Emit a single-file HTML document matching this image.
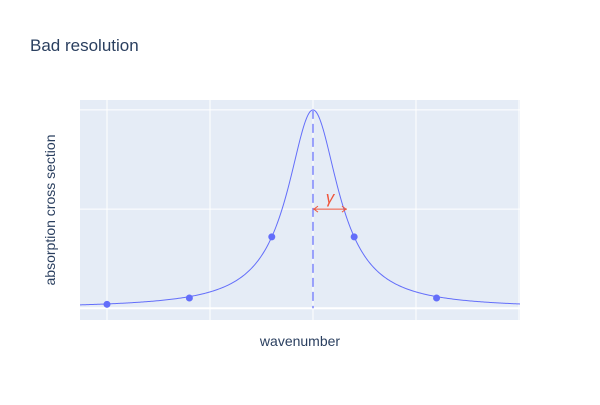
<!DOCTYPE html>
<html><head><meta charset="utf-8"><style>
body{margin:0;background:#fff;}
svg text{font-family:"Liberation Sans",sans-serif;}
</style></head><body>
<svg id="chart" width="600" height="400" xmlns="http://www.w3.org/2000/svg">
<rect x="0" y="0" width="600" height="400" fill="#fff"/>
<rect x="80" y="100" width="440" height="220" fill="#e5ecf6"/>
<g id="grid"></g>
<g id="marks"></g>
<text x="30" y="51" font-size="17" fill="#2a3f5f">Bad resolution</text>
<text x="300" y="346" font-size="14" fill="#2a3f5f" text-anchor="middle">wavenumber</text>
<text transform="translate(55,210) rotate(-90)" font-size="14" fill="#2a3f5f" text-anchor="middle">absorption cross section</text>
</svg>
<script>
const xGrid=[-2,-1,0,1,2];
const yGrid=[0,0.5,1];
const sampleX=[-2,-1.2,-0.4,0.4,1.2];
const sampleY=[0.02,0.052,0.36,0.36,0.052];
const center=[0];
const gamma=[0.3];
const NS='http://www.w3.org/2000/svg';
const X0=80,X1=520,Y0=320,Y1=100;
const xMin=-2.262,xMax=2.01,yMin=-0.059,yMax=1.05;
const sx=v=>X0+(v-xMin)/(xMax-xMin)*(X1-X0);
const sy=v=>Y0-(v-yMin)/(yMax-yMin)*(Y0-Y1);
const L=x=>1/(1+((x-center[0])/gamma[0])**2);
function mk(tag,attrs,parent){const e=document.createElementNS(NS,tag);for(const k in attrs)e.setAttribute(k,attrs[k]);parent.appendChild(e);return e;}
const grid=document.getElementById('grid'),marks=document.getElementById('marks');
xGrid.forEach(v=>{const e=mk('line',{x1:sx(v),x2:sx(v),y1:Y1,y2:Y0,stroke:'#fff','stroke-width':1},grid);

});
yGrid.forEach(v=>{const e=mk('line',{x1:X0,x2:X1,y1:sy(v),y2:sy(v),stroke:'#fff','stroke-width':v===0?2:1},grid);

});
let d='';for(let i=0;i<=400;i++){const x=xMin+(xMax-xMin)*i/400;d+=(i?'L':'M')+sx(x).toFixed(2)+','+sy(L(x)).toFixed(2);}
const curve=mk('path',{d:d,fill:'none',stroke:'#636efa','stroke-width':1},marks);


const cl=mk('line',{x1:sx(center[0]),x2:sx(center[0]),y1:sy(L(center[0])),y2:sy(0),stroke:'#99a0fb','stroke-width':2,'stroke-dasharray':'9,5'},marks);


sampleX.forEach((v,i)=>{const c=mk('circle',{cx:sx(v),cy:sy(sampleY[i]),r:3.5,fill:'#636efa'},marks);

});
const ay=sy(0.5),ax0=sx(center[0]),ax1=sx(center[0]+0.33);
const ar=mk('g',{},marks);


mk('line',{x1:ax0,x2:ax1,y1:ay,y2:ay,stroke:'#ef553b','stroke-width':1},ar);
mk('path',{d:`M${ax0+5},${ay-3}L${ax0+1},${ay}L${ax0+5},${ay+3}M${ax1-5},${ay-3}L${ax1-1},${ay}L${ax1-5},${ay+3}`,fill:'none',stroke:'#ef553b','stroke-width':1},ar);
const gt=mk('text',{x:(ax0+ax1)/2,y:ay-6,'font-size':17,fill:'#ef553b','text-anchor':'middle','font-style':'italic','font-family':'Liberation Serif, serif'},marks);
gt.textContent='γ';


</script>
</body></html>
